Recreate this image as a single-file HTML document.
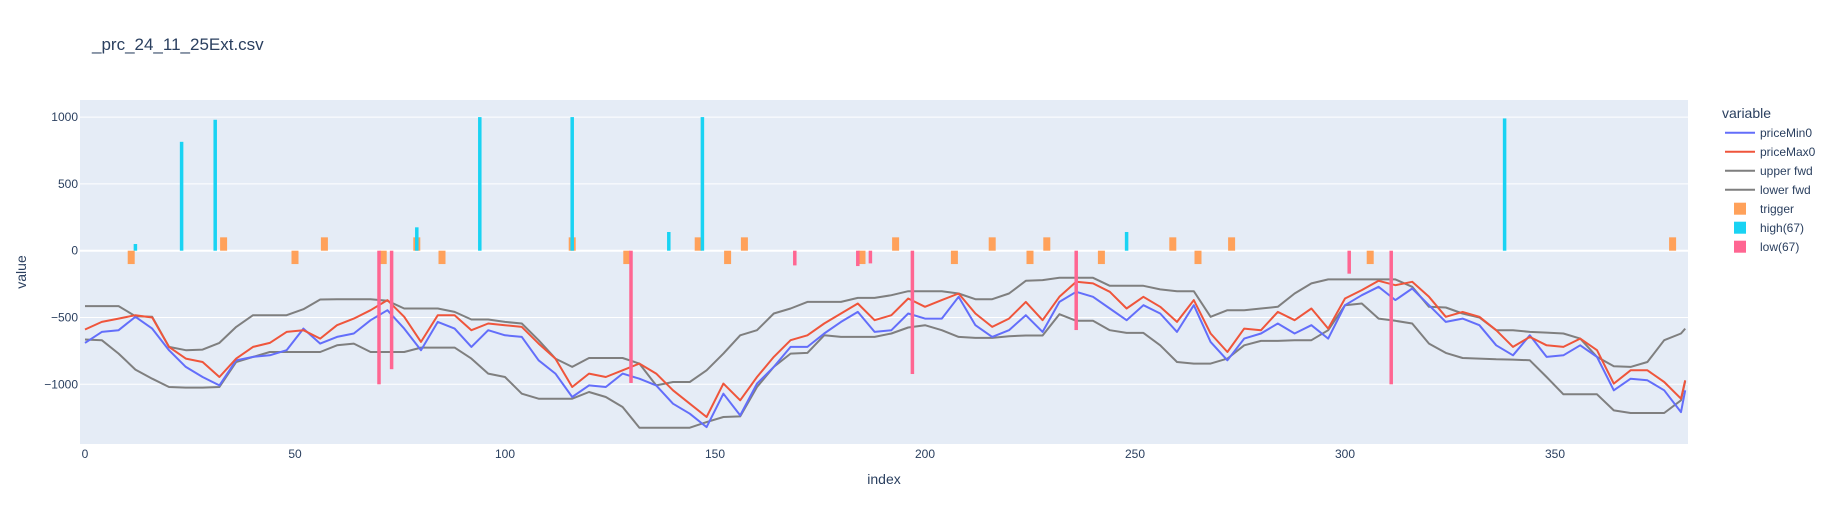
<!DOCTYPE html>
<html><head><meta charset="utf-8">
<style>
html,body{margin:0;padding:0;background:#fff;}
svg{display:block;font-family:"Liberation Sans",Arial,sans-serif;}
</style></head>
<body>
<svg id="chart" width="1832" height="525" viewBox="0 0 1832 525">
  <text x="92" y="50" font-size="17" fill="#2a3f5f">_prc_24_11_25Ext.csv</text>
  <rect x="80" y="100" width="1608" height="344" fill="#E5ECF6"/>
  <g id="grid"></g>
  <g id="lines"></g>
  <g id="bars"></g>
  <g id="yticks"></g>
  <g id="xticks"></g>
  <text x="884" y="484" font-size="14" fill="#2a3f5f" text-anchor="middle">index</text>
  <text x="26" y="272" font-size="14" fill="#2a3f5f" text-anchor="middle" transform="rotate(-90 26 272)">value</text>
  <g id="legend">
    <text x="1722" y="118" font-size="14" fill="#2a3f5f">variable</text>
  </g>
</svg>
<script>
// ---- data ----
const idx = [0,4,8,12,16,20,24,28,32,36,40,44,48,52,56,60,64,68,72,76,80,84,88,92,96,100,104,108,112,116,120,124,128,132,136,140,144,148,152,156,160,164,168,172,176,180,184,188,192,196,200,204,208,212,216,220,224,228,232,236,240,244,248,252,256,260,264,268,272,276,280,284,288,292,296,300,304,308,312,316,320,324,328,332,336,340,344,348,352,356,360,364,368,372,376,380,381];
const priceMax0 = [-590,-533,-508,-483,-500,-720,-808,-833,-945,-808,-720,-690,-608,-595,-658,-558,-508,-445,-370,-495,-683,-483,-483,-595,
-545,-558,-570,-695,-808,-1020,-920,-945,-895,-845,-920,-1045,-1145,-1245,-995,-1120,-945,-795,-670,-633,-545,-470,-395,-520,
-483,-358,-420,-370,-320,-470,-570,-508,-383,-520,-345,-233,-245,-308,-433,-345,-420,-533,-370,-620,-758,-583,-595,-458,
-520,-433,-583,-358,-295,-225,-258,-233,-345,-495,-458,-495,-595,-720,-645,-708,-720,-658,-745,-995,-895,-895,-983,-1108,-970];
const priceMin0 = [-690,-608,-595,-495,-583,-745,-870,-945,-1008,-820,-795,-783,-745,-583,-695,-645,-620,-520,-445,-583,-745,-533,-583,-720,
-595,-633,-645,-820,-920,-1095,-1008,-1020,-920,-958,-1008,-1145,-1220,-1320,-1070,-1233,-995,-870,-720,-720,-620,-533,-458,-608,
-595,-470,-508,-508,-345,-558,-645,-595,-483,-608,-383,-308,-345,-433,-520,-408,-470,-608,-408,-683,-820,-658,-620,-545,
-620,-558,-658,-408,-333,-270,-370,-283,-408,-533,-508,-558,-708,-783,-633,-795,-783,-708,-795,-1045,-958,-970,-1045,-1208,-1045];
const upperFwd = [-415,-415,-415,-490,-495,-720,-745,-740,-690,-570,-483,-483,-483,-438,-365,-363,-363,-363,-375,-433,-433,-433,-458,-515,
-515,-533,-545,-670,-808,-870,-803,-803,-803,-845,-1008,-983,-983,-895,-770,-633,-595,-470,-433,-383,-383,-383,-353,-353,
-333,-303,-303,-303,-320,-363,-363,-320,-225,-220,-203,-203,-203,-263,-263,-263,-290,-303,-303,-495,-445,-445,-433,-420,
-320,-245,-215,-215,-215,-215,-215,-270,-420,-425,-470,-500,-595,-595,-608,-613,-620,-658,-795,-865,-870,-833,-670,-620,-583];
const lowerFwd = [-665,-670,-770,-890,-958,-1020,-1025,-1025,-1020,-833,-795,-758,-758,-758,-758,-708,-695,-758,-758,-758,-725,-725,-725,-808,
-920,-945,-1070,-1108,-1108,-1108,-1058,-1095,-1170,-1325,-1325,-1325,-1325,-1283,-1245,-1240,-1020,-870,-770,-765,-633,-645,-645,-645,
-620,-575,-558,-595,-645,-653,-653,-640,-635,-635,-475,-525,-525,-595,-615,-615,-708,-833,-845,-845,-808,-708,-675,-675,
-670,-670,-595,-408,-395,-508,-525,-545,-695,-765,-803,-808,-813,-815,-820,-945,-1075,-1075,-1075,-1195,-1215,-1215,-1215,-1120,-975];
const triggerIdx = [11,33,50,57,71,79,85,116,129,146,153,157,185,193,207,216,225,229,242,259,265,273,306,378];
const triggerVal = [-100,100,-100,100,-100,100,-100,100,-100,100,-100,100,-100,100,-100,100,-100,100,-100,100,-100,100,-100,100];
const highIdx = [12,23,31,79,94,116,139,147,248,338];
const highVal = [50,815,980,175,1000,1000,140,1000,140,990];
const lowIdx = [70,73,130,169,184,187,197,236,301,311];
const lowVal = [-1000,-887,-990,-110,-115,-95,-923,-594,-172,-1000];
const yTicks = [1000,500,0,-500,-1000];
const yTickLabels = ["1000","500","0","\u2212500","\u22121000"];
const xTicks = [0,50,100,150,200,250,300,350];

// ---- axes ----
const X0 = 85, XS = 4.2;
const Y0 = 250.7, YS = 0.1336;
function xp(v){ return X0 + v*XS; }
function yp(v){ return Y0 - v*YS; }
const NS = "http://www.w3.org/2000/svg";
function mk(tag, attrs, parent){ const e=document.createElementNS(NS,tag); for(const k in attrs) e.setAttribute(k,attrs[k]); parent.appendChild(e); return e; }

const grid = document.getElementById('grid');
const yt = document.getElementById('yticks');
yTicks.forEach((t,i)=>{
  const l = mk('line',{x1:80,x2:1688,y1:yp(t),y2:yp(t),stroke:'#fff','stroke-width':t===0?2:1},grid);
  
  
  const tx = mk('text',{x:78,y:yp(t)+4,'font-size':12,fill:'#2a3f5f','text-anchor':'end'},yt);
  tx.textContent = yTickLabels[i];
  
  
});
const xt = document.getElementById('xticks');
xTicks.forEach(t=>{
  const tx = mk('text',{x:xp(t),y:458,'font-size':12,fill:'#2a3f5f','text-anchor':'middle'},xt);
  tx.textContent = String(t);
  
  
});

// ---- lines ----
const lg = document.getElementById('lines');
function drawLine(vals, color, name){
  const d = vals.map((v,i)=>(i?'L':'M')+xp(idx[i]).toFixed(1)+','+yp(v).toFixed(1)).join('');
  const p = mk('path',{d:d,fill:'none',stroke:color,'stroke-width':2,'stroke-linejoin':'round'},lg);
  
  
}
drawLine(upperFwd,'#7f7f7f','upper-fwd-line');
drawLine(lowerFwd,'#7f7f7f','lower-fwd-line');
drawLine(priceMin0,'#636EFA','price-min0-line');
drawLine(priceMax0,'#EF553B','price-max0-line');

// ---- bars ----
const bg = document.getElementById('bars');
function drawBars(ix, vals, color, w, name){
  ix.forEach((k,i)=>{
    const v = vals[i];
    const y1 = yp(Math.max(v,0)), y2 = yp(Math.min(v,0));
    const r = mk('rect',{x:xp(k)-w/2,y:y1,width:w,height:Math.max(y2-y1,0.5),fill:color},bg);
    
    
  });
}
drawBars(triggerIdx,triggerVal,'#FFA15A',7,'trigger-bar');
drawBars(highIdx,highVal,'#19D3F3',3.5,'high67-bar');
drawBars(lowIdx,lowVal,'#FF6692',3.5,'low67-bar');

// ---- legend ----
const leg = document.getElementById('legend');
const legItems = [
  ['priceMin0','line','#636EFA'],['priceMax0','line','#EF553B'],['upper fwd','line','#7f7f7f'],['lower fwd','line','#7f7f7f'],
  ['trigger','box','#FFA15A'],['high(67)','box','#19D3F3'],['low(67)','box','#FF6692']];
legItems.forEach((it,i)=>{
  const cy = 132.7 + i*19;
  const g = mk('g',{},leg);
  
  
  if(it[1]==='line'){
    mk('line',{x1:1725,x2:1755,y1:cy,y2:cy,stroke:it[2],'stroke-width':2},g);
  } else {
    mk('rect',{x:1734,y:cy-6,width:12,height:12,fill:it[2]},g);
  }
  const t = mk('text',{x:1760,y:cy+4.5,'font-size':12,fill:'#2a3f5f'},g);
  t.textContent = it[0];
});
</script>
</body></html>
